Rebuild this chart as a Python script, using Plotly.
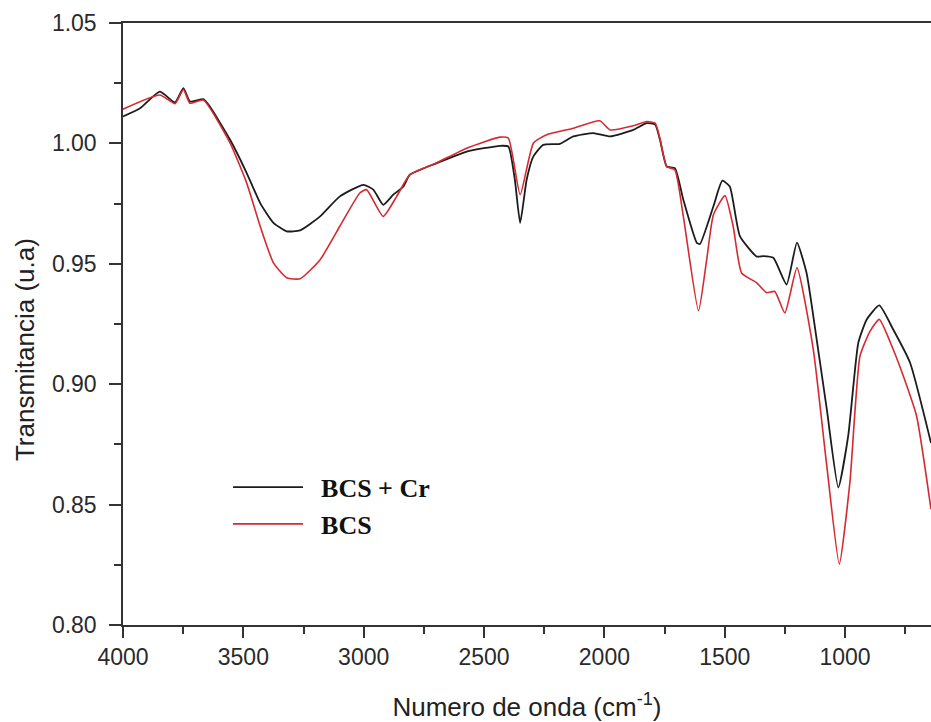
import plotly.graph_objects as go

# Wavenumber (cm-1) and transmittance values
wn_bcs_cr = [4000, 3929, 3847, 3784, 3749, 3722, 3666, 3639, 3555, 3486, 3430, 3375,
             3320, 3264, 3181, 3099, 3001, 2960, 2919, 2877, 2835, 2808, 2696, 2572,
             2434, 2399, 2372, 2350, 2323, 2295, 2254, 2185, 2129, 2046, 1976, 1880,
             1824, 1789, 1769, 1741, 1707, 1672, 1616, 1603, 1547, 1510, 1479, 1437,
             1367, 1340, 1298, 1243, 1200, 1160, 1132, 1076, 1028, 987, 945, 910,
             858, 800, 730, 643]
t_bcs_cr = [1.0112, 1.0146, 1.0215, 1.0170, 1.0229, 1.0174, 1.0184, 1.0153, 1.0015,
            0.9877, 0.9752, 0.9670, 0.9635, 0.9639, 0.9697, 0.9780, 0.9828, 0.9808,
            0.9745, 0.9787, 0.9821, 0.9870, 0.9918, 0.9966, 0.9990, 0.9987, 0.9849,
            0.9670, 0.9849, 0.9946, 0.9994, 0.9998, 1.0029, 1.0043, 1.0029, 1.0056,
            1.0084, 1.0078, 1.0015, 0.9904, 0.9897, 0.9766, 0.9587, 0.9582, 0.9739,
            0.9845, 0.9821, 0.9615, 0.9530, 0.9532, 0.9525, 0.9414, 0.9588, 0.9462,
            0.9283, 0.8896, 0.8571, 0.8785, 0.9172, 0.9269, 0.9327, 0.9227, 0.9089,
            0.8756]

wn_bcs = [4000, 3847, 3784, 3749, 3722, 3666, 3555, 3486, 3430, 3375, 3320, 3264,
          3181, 3099, 3016, 2988, 2919, 2863, 2808, 2696, 2572, 2434, 2399, 2350,
          2295, 2240, 2129, 2019, 1976, 1880, 1824, 1789, 1769, 1741, 1707, 1672,
          1609, 1575, 1547, 1499, 1465, 1430, 1367, 1326, 1292, 1250, 1200, 1132,
          1076, 1024, 980, 938, 896, 858, 800, 758, 703, 643]
t_bcs = [1.0142, 1.0201, 1.0165, 1.0224, 1.0167, 1.0180, 1.0001, 0.9835, 0.9656,
         0.9504, 0.9442, 0.9438, 0.9517, 0.9656, 0.9794, 0.9808, 0.9697, 0.9780,
         0.9870, 0.9920, 0.9980, 1.0026, 1.0022, 0.9787, 1.0001, 1.0036, 1.0063,
         1.0094, 1.0056, 1.0073, 1.0091, 1.0084, 1.0020, 0.9904, 0.9890, 0.9697,
         0.9305, 0.9517, 0.9704, 0.9783, 0.9656, 0.9462, 0.9421, 0.9380, 0.9385,
         0.9296, 0.9483, 0.9144, 0.8661, 0.8253, 0.8592, 0.9117, 0.9220, 0.9269,
         0.9144, 0.9034, 0.8868, 0.8481]

x_ticks = [4000, 3500, 3000, 2500, 2000, 1500, 1000]
y_ticks = [0.80, 0.85, 0.90, 0.95, 1.00, 1.05]

NB = "\u00a0\u00a0"
fig = go.Figure()
fig.add_trace(go.Scatter(x=wn_bcs_cr, y=t_bcs_cr, mode="lines", name=NB + "BCS + Cr",
                         legendgroup="a",
                         line=dict(color="#1c1c1c", width=1.8, shape="spline", smoothing=0.5)))
fig.add_trace(go.Scatter(x=wn_bcs, y=t_bcs, mode="lines", name=NB + "BCS",
                         legendgroup="b",
                         line=dict(color="#d42a32", width=1.6, shape="spline", smoothing=0.5)))

axis_font = dict(family="Liberation Sans, Arial, sans-serif", size=23, color="#2a2a2a")
title_font = dict(family="Liberation Sans, Arial, sans-serif", size=26, color="#222222")
fig.update_layout(
    width=931, height=722,
    margin=dict(l=123, r=0, t=23, b=97),
    paper_bgcolor="white", plot_bgcolor="white",
    showlegend=True,
    legend=dict(x=0.13, y=0.268, xanchor="left", yanchor="top",
                bgcolor="rgba(0,0,0,0)", tracegroupgap=0, itemwidth=70,
                font=dict(family="Liberation Serif, Times New Roman, serif", size=26,
                          color="#111111", weight="bold")),
    xaxis=dict(range=[4000, 643], tickvals=x_ticks, showgrid=False, zeroline=False,
               showline=True, linecolor="#333333", linewidth=1.5, mirror=True,
               ticks="outside", ticklen=11, tickwidth=1.5, tickcolor="#333333",
               minor=dict(dtick=250, ticks="outside", ticklen=7, tickwidth=1.5,
                          tickcolor="#333333", showgrid=False),
               tickfont=axis_font,
               title=dict(text="Numero de onda (cm<sup>-1</sup>)", font=title_font,
                          standoff=28)),
    yaxis=dict(range=[0.80, 1.05], tickvals=y_ticks, tickformat=".2f", showgrid=False,
               zeroline=False, showline=True, linecolor="#333333", linewidth=1.5,
               ticks="outside", ticklen=12, tickwidth=1.5, tickcolor="#333333",
               ticklabelstandoff=8,
               minor=dict(dtick=0.025, ticks="outside", ticklen=7, tickwidth=1.5,
                          tickcolor="#333333", showgrid=False),
               tickfont=axis_font),
    annotations=[dict(text="Transmitancia (u.a)", textangle=-90, showarrow=False,
                      xref="paper", yref="paper", x=-0.121, y=0.457,
                      xanchor="center", yanchor="middle", font=title_font)],
)

fig.write_html("out.html")
